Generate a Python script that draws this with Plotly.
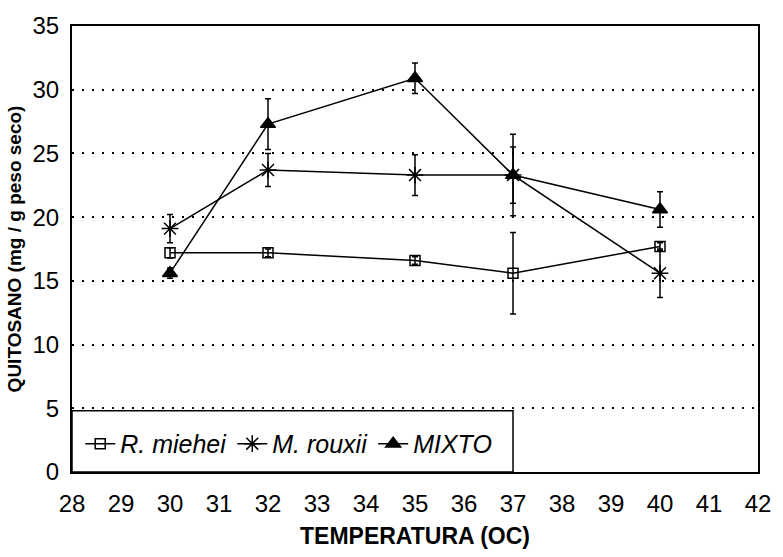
import plotly.graph_objects as go

temperatura = [30, 32, 35, 37, 40]

r_miehei = [17.2, 17.2, 16.6, 15.6, 17.7]
r_miehei_err = [0.4, 0.3, 0.3, 3.2, 0.3]

m_rouxii = [19.1, 23.7, 23.3, 23.3, 15.6]
m_rouxii_err = [1.1, 1.3, 1.6, 2.2, 1.9]

mixto = [15.6, 27.3, 30.9, 23.3, 20.6]
mixto_err = [0.4, 2.0, 1.2, 3.2, 1.4]

x_ticks = list(range(28, 43))
y_ticks = list(range(0, 36, 5))

FONT = "Liberation Sans, Arial, sans-serif"

fig = go.Figure()

def add_series(name, y, err, symbol, size):
    fig.add_trace(go.Scatter(
        x=temperatura, y=y, name=name, mode="lines+markers",
        line=dict(color="black", width=1.5),
        marker=dict(symbol=symbol, size=size, color="black",
                    line=dict(color="black", width=1.5)),
        error_y=dict(type="data", array=err, visible=True,
                     color="black", thickness=1.5, width=3),
    ))

add_series("R. miehei", r_miehei, r_miehei_err, "square-open", 10)
add_series("M. rouxii", m_rouxii, m_rouxii_err, "asterisk-open", 14)
add_series("MIXTO", mixto, mixto_err, "triangle-up", 13)

# legend frame
fig.add_shape(type="rect", xref="x", yref="y", x0=28, x1=37, y0=0, y1=4.8,
              line=dict(color="black", width=1.5), fillcolor="white", layer="below")

fig.update_layout(
    width=783, height=557,
    margin=dict(l=72, r=19, t=18, b=72),
    paper_bgcolor="white", plot_bgcolor="white",
    font=dict(family=FONT, color="black"),
    showlegend=True,
    legend=dict(orientation="h", x=0.012, y=0.063, xanchor="left", yanchor="middle",
                bgcolor="rgba(0,0,0,0)", borderwidth=0,
                font=dict(size=25, style="italic", family=FONT),
                itemwidth=30, tracegroupgap=0),
)

fig.update_xaxes(
    range=[28, 42], tickvals=x_ticks, ticktext=[str(v) for v in x_ticks],
    showgrid=False, zeroline=False,
    showline=True, linecolor="black", linewidth=2, mirror=True,
    ticks="", ticklabelstandoff=9,
    tickfont=dict(size=24, family=FONT),
    title=dict(text="<b>TEMPERATURA (OC)</b>", font=dict(size=23, family=FONT), standoff=12),
)
fig.update_yaxes(
    range=[0, 35], tickvals=y_ticks, ticktext=[str(v) for v in y_ticks],
    showgrid=True, gridcolor="black", gridwidth=2, griddash="2px,8px",
    zeroline=False,
    showline=True, linecolor="black", linewidth=2, mirror=True,
    ticks="", ticklabelstandoff=6,
    tickfont=dict(size=24, family=FONT),
    title=dict(text="<b>QUITOSANO (mg / g peso seco)</b>", font=dict(size=19, family=FONT), standoff=6),
)

fig.write_html("out.html")
